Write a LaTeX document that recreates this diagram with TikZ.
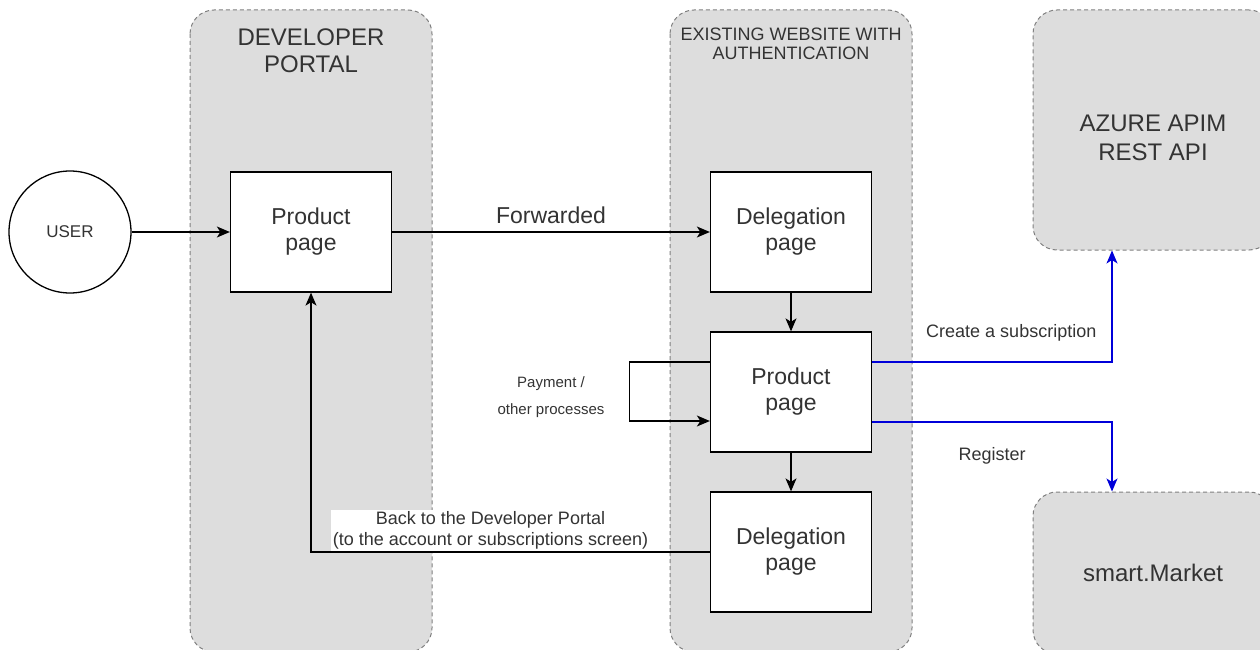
\documentclass[tikz,border=0pt]{standalone}
\usepackage{fontspec}
\setmainfont{Liberation Sans}
\usepackage{xcolor}
\definecolor{lanegrey}{rgb}{0.867,0.867,0.867}
\definecolor{edgegrey}{rgb}{0.5,0.5,0.5}
\definecolor{textgrey}{rgb}{0.2,0.2,0.2}
\definecolor{linkblue}{rgb}{0,0,0.85}
\usepackage{tikz}
\usetikzlibrary{arrows, arrows.meta, calc}
\tikzset{
    lane/.style={fill=lanegrey, draw=edgegrey, dash pattern=on 4pt off 3pt,
        rounded corners=24pt, line width=1pt},
    page/.style={draw=black, fill=white, line width=1.3pt, minimum width=161pt,
        minimum height=120pt, align=center, text=textgrey,
        font=\fontsize{23}{26}\selectfont},
    flow/.style={-{Stealth[length=13pt, width=11pt, inset=3.5pt]}, line width=1.2pt},
    link/.style={flow, draw=linkblue},
    note/.style={text=textgrey, align=center}
}
\begin{document}
\begin{tikzpicture}
    [x=1pt, y=-1pt]
    \useasboundingbox (0,0) rectangle (1260,650);
    % lanes
    \draw[lane] (190,10) rectangle (432,652);
    \draw[lane] (670,10) rectangle (912,652);
    \node[note, font=\fontsize{24}{27}\selectfont] (portaltitle) at (311,51)
        {DEVELOPER\\PORTAL};
    \node[note, font=\fontsize{18}{19}\selectfont] (sitetitle) at (791,44)
        {EXISTING WEBSITE WITH\\AUTHENTICATION};
    \node[lane, minimum width=240pt, minimum height=240pt] (apim) at (1153,130) {};
    \node[note, font=\fontsize{24}{29}\selectfont] (apimtext) at (1153,138)
        {AZURE APIM\\REST API};
    \node[lane, note, minimum width=240pt, minimum height=162pt,
        font=\fontsize{24}{27}\selectfont] (market) at (1153,573)
        {smart.Market};
    % pages
    \node[circle, draw, line width=1.3pt, minimum size=122pt, text=textgrey,
        font=\fontsize{17}{20}\selectfont] (user) at (70,232) {USER};
    \node[page] (portal) at (311,232) {Product\\page};
    \node[page] (deleg1) at (791,232) {Delegation\\page};
    \node[page] (prod2) at (791,392) {Product\\page};
    \node[page] (deleg2) at (791,552) {Delegation\\page};
    % arrows
    \draw[flow] (user) -- (portal);
    \draw[flow] (portal) -- node[note, above=4pt, font=\fontsize{23}{26}\selectfont]
        {Forwarded} (deleg1);
    \draw[flow] (deleg1) -- (prod2);
    \draw[flow] (prod2) -- (deleg2);
    \draw[flow] ([yshift=30pt]prod2.west) -- ++(-80,0) |- ([yshift=-29pt]prod2.west);
    \node[note, font=\fontsize{15}{27}\selectfont] (paylbl) at (551,397)
        {Payment /\\other processes};
    \draw[flow] (deleg2.west) -- node[note, pos=0.55, anchor=south, fill=white,
        inner sep=2pt, font=\fontsize{18}{21}\selectfont]
        {Back to the Developer Portal\\(to the account or subscriptions screen)}
        (portal.south |- deleg2.west) -- (portal.south);
    \draw[link] ([yshift=30pt]prod2.east) -| node[note, pos=0.29, above=17pt,
        font=\fontsize{18}{21}\selectfont] {Create a subscription}
        ([xshift=-41pt]apim.south);
    \draw[link] ([yshift=-30pt]prod2.east) -| node[note, pos=0.25, below=22pt,
        font=\fontsize{18}{21}\selectfont] {Register}
        ([xshift=-41pt]market.north);
\end{tikzpicture}
\end{document}
